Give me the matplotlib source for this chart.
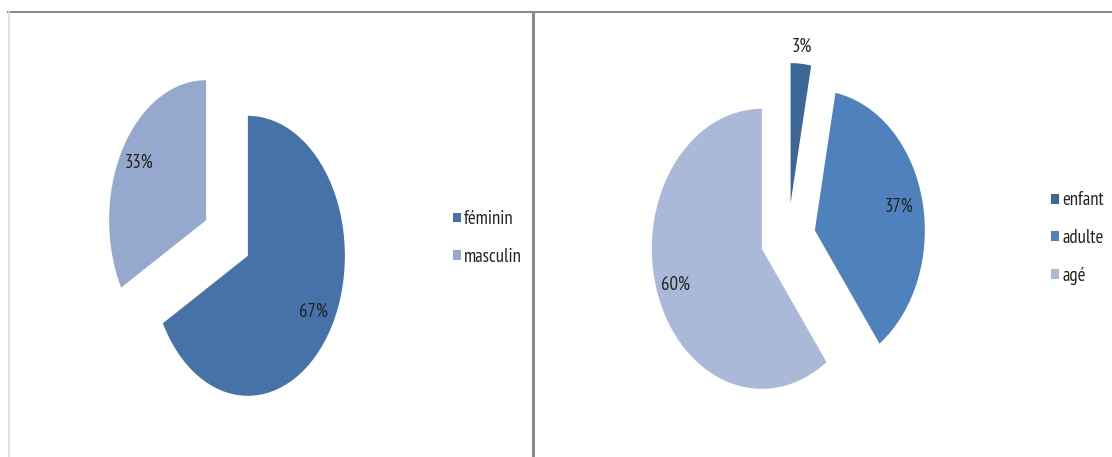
import matplotlib
matplotlib.use('Agg')
import matplotlib.pyplot as plt
from matplotlib.lines import Line2D
import numpy as np

plt.rcParams['font.family'] = ['PT Sans Narrow', 'Carlito', 'DejaVu Sans']

# données
sexe_labels = ['féminin', 'masculin']
sexe_values = [67, 33]
sexe_colors = ['#4572a7', '#95a9ce']

age_labels = ['enfant', 'adulte', 'agé']
age_values = [3, 37, 60]
age_colors = ['#3d6797', '#4f81bd', '#aab9d7']

W, H = 1112, 457
fig = plt.figure(figsize=(W / 100, H / 100), dpi=100)


def pie_axes(cx, cy, rx, ry, values, colors, lbl_r, half_w=2.0, half_h=1.5):
    # axes placé en pixels, pie étiré (ellipse) comme dans Excel
    w, h = 2 * half_w * rx, 2 * half_h * ry
    ax = fig.add_axes([(cx - w / 2) / W, (H - cy - h / 2) / H, w / W, h / H])
    wedges, _ = ax.pie(values, colors=colors, startangle=90, counterclock=False,
                       explode=[0.25] * len(values))
    ax.set_aspect('auto')
    ax.set_xlim(-half_w, half_w)
    ax.set_ylim(-half_h, half_h)
    ax.axis('off')
    for wdg, v, r in zip(wedges, values, lbl_r):
        wdg.set_clip_on(False)
        ang = np.deg2rad((wdg.theta1 + wdg.theta2) / 2)
        x0, y0 = wdg.center
        ax.text(x0 + r * np.cos(ang), y0 + r * np.sin(ang), '%d%%' % v,
                ha='center', va='center', fontsize=13.5, color='#222222')
    return ax, wedges


ax1, w1 = pie_axes(227, 238, 97, 140, sexe_values, sexe_colors, [0.79, 0.80])
ax2, w2 = pie_axes(788, 238, 110, 140, age_values, age_colors, [1.12, 0.78, 0.83])

for ax, wd, labels, x in [(ax1, w1, sexe_labels, 453), (ax2, w2, age_labels, 1051)]:
    ax.legend(wd, labels, loc='center left', bbox_to_anchor=(x / W, 1 - 238 / H),
              bbox_transform=fig.transFigure, frameon=False, fontsize=13.5,
              handlelength=0.43, handleheight=0.43, handletextpad=0.16,
              labelspacing=1.05, borderpad=0, borderaxespad=0,
              labelcolor='#222222')

# cadres
fig.add_artist(Line2D([8 / W, 1], [1 - 11.5 / H] * 2, color='#8c8c8c', lw=1.5))
fig.add_artist(Line2D([8.5 / W] * 2, [0, 1 - 11.5 / H], color='#dcdcdc', lw=1.2))
fig.add_artist(Line2D([532.5 / W] * 2, [0, 1 - 11.5 / H], color='#8a8a8a', lw=2.2))

fig.savefig('out.png', dpi=100, facecolor='white')
